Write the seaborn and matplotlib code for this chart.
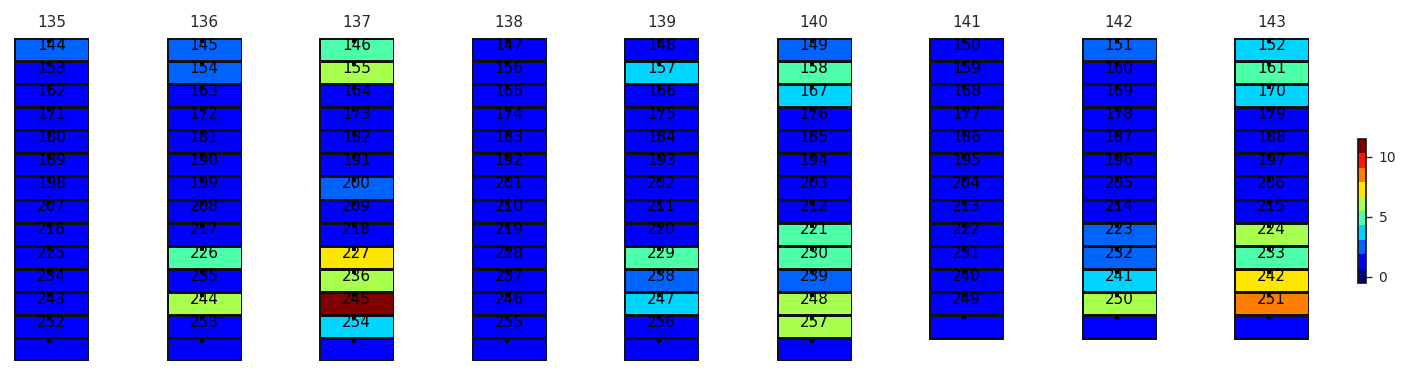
import numpy as np
import matplotlib
matplotlib.use("Agg")
import matplotlib.pyplot as plt
import seaborn as sns

# panel titles and the cell values (top to bottom) for each strip
titles = [135, 136, 137, 138, 139, 140, 141, 142, 143]
values = [
    [2, 1, 1, 1, 1, 1, 1, 1, 1, 1, 1, 1, 1, 1],
    [2, 2, 1, 1, 1, 1, 1, 1, 1, 5, 1, 6, 1, 1],
    [5, 6, 1, 1, 1, 1, 2, 1, 1, 7, 6, 11, 4, 1],
    [1, 1, 1, 1, 1, 1, 1, 1, 1, 1, 1, 1, 1, 1],
    [1, 4, 1, 1, 1, 1, 1, 1, 1, 5, 2, 4, 1, 1],
    [2, 5, 4, 1, 1, 1, 1, 1, 5, 5, 2, 6, 6, 1],
    [1, 1, 1, 1, 1, 1, 1, 1, 1, 1, 1, 1, 1],
    [2, 1, 1, 1, 1, 1, 1, 1, 2, 2, 4, 6, 1],
    [4, 5, 4, 1, 1, 1, 1, 1, 6, 5, 7, 8, 1],
]
# first cell label of each strip; labels go up by 9, last cell has none
label_start = [144, 145, 146, 147, 148, 149, 150, 151, 152]
label_step = 9

cmap = plt.get_cmap("jet", 10)
vmin, vmax = -0.5, 11.5

sns.set_style("white")
fig = plt.figure(figsize=(14.17, 3.76), dpi=100)

W, H = 1417, 376
n_max = 14
top_px, bot_px = 38, 361
for i, (t, vals) in enumerate(zip(titles, values)):
    x0 = 14 + i * 152.5
    ax = fig.add_axes([x0 / W, (H - bot_px) / H, 75 / W, (bot_px - top_px) / H])
    arr = np.array(vals, dtype=float).reshape(-1, 1)
    sns.heatmap(arr, ax=ax, cmap=cmap, vmin=vmin, vmax=vmax, cbar=False,
                linewidths=2, linecolor="#111111", xticklabels=False,
                yticklabels=False)
    mesh = ax.collections[0]
    n = len(vals)
    for r in range(n - 1):
        ax.text(0.5, r + 0.32, str(label_start[i] + label_step * r),
                ha="center", va="center", fontsize=11, color="black")
    ax.scatter(np.full(n, 0.47), np.arange(n) + 0.14, marker="s", s=5,
               color="black", linewidths=0, zorder=5)
    ax.set_xlim(0, 1)
    ax.set_ylim(n_max, 0)
    ax.set_axis_off()
    ax.set_title(str(t), fontsize=11, pad=8)

cax = fig.add_axes([1358 / W, (H - 283) / H, 8 / W, 144 / H])
cb = fig.colorbar(mesh, cax=cax)
cb.set_ticks([0, 5, 10])
cb.ax.tick_params(labelsize=10, length=4, width=1, pad=5)
cb.outline.set_edgecolor("#111111")
cb.outline.set_linewidth(1.2)

fig.savefig("out.png", dpi=100)
